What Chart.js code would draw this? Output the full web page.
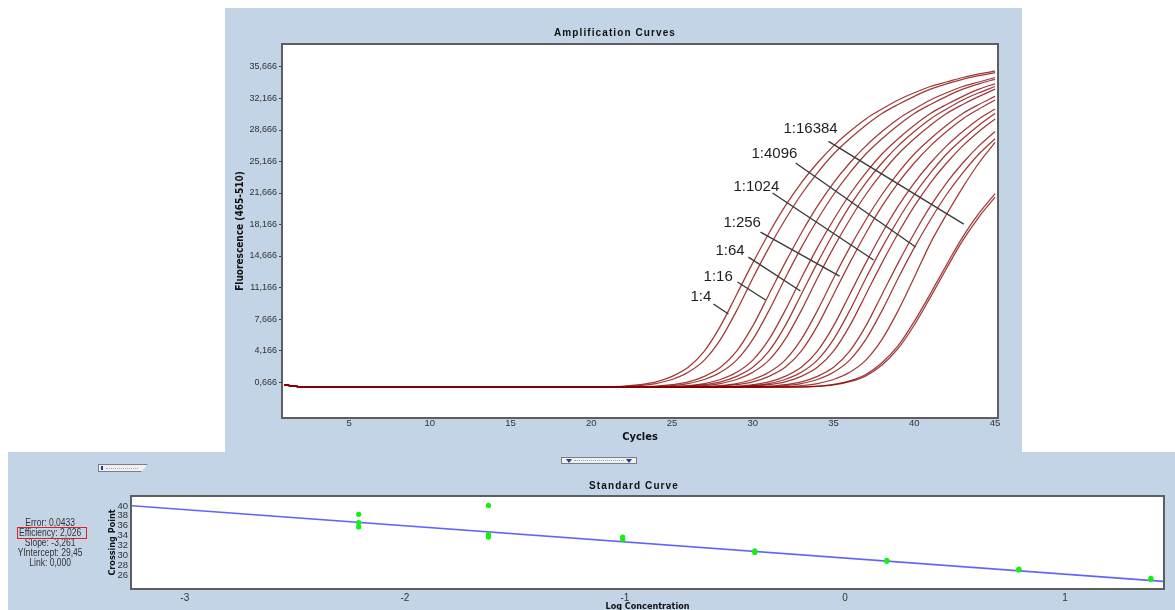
<!DOCTYPE html>
<html>
<head>
<meta charset="utf-8">
<title>Amplification Curves</title>
<script src="https://cdn.jsdelivr.net/npm/chart.js@4.4.1/dist/chart.umd.min.js"></script>
<style>
  html, body { margin: 0; padding: 0; background: #fff; }
  body { width: 1175px; height: 610px; position: relative; overflow: hidden;
         font-family: 'Liberation Sans', Arial, sans-serif; }
  .panel { position: absolute; background: #c3d4e6; }
  #topPanel { left: 225px; top: 8px; width: 797px; height: 444px; }
  #bottomPanel { left: 8px; top: 452px; width: 1167px; height: 158px; }
  canvas { position: absolute; left: 0; top: 0; }
  .title { position: absolute; font: bold 10px 'Liberation Sans', Arial, sans-serif;
           letter-spacing: 1.1px; color: #111; white-space: nowrap; transform: translateX(-50%); }
  #stats { position: absolute; left: 0; top: 518px; width: 100px; text-align: center;
           font: 10px 'Liberation Sans', Arial, sans-serif; line-height: 10px; color: #333;
           transform: scaleX(0.85); transform-origin: 51px 0; }
  #effBox { position: absolute; left: 17px; top: 527px; width: 68px; height: 10px; border: 1px solid #e02020; }
  .slider { position: absolute; background: #eef0f5; border: 1px solid #7d7d7d; box-sizing: border-box; }
  #leftSlider { left: 98px; top: 464px; width: 50px; height: 8px;
                clip-path: polygon(0 0, 100% 0, 86% 100%, 0 100%); }
  #leftSlider .knob { position: absolute; left: 2px; top: 1px; width: 2px; height: 4px; background: #2233aa; }
  #leftSlider .dots { position: absolute; left: 7px; right: 9px; top: 3px; border-top: 1px dotted #9aa; }
  #midSlider { left: 561px; top: 457px; width: 76px; height: 7px; }
  #midSlider .tri { position: absolute; top: 1px; width: 0; height: 0;
                    border-left: 3px solid transparent; border-right: 3px solid transparent; border-top: 4px solid #2a3a9a; }
  #midSlider .dots { position: absolute; left: 12px; right: 12px; top: 2px; border-top: 1px dotted #9aa; }
</style>
</head>
<body>
<div class="panel" id="topPanel"><canvas id="ampChart" width="797" height="444"></canvas></div>
<div class="panel" id="bottomPanel"><canvas id="stdChart" width="1167" height="158"></canvas></div>
<div class="title" style="left:615px; top:27px;">Amplification Curves</div>
<div class="title" style="left:634px; top:480px;">Standard Curve</div>
<div class="slider" id="leftSlider"><div class="knob"></div><div class="dots"></div></div>
<div class="slider" id="midSlider"><div class="tri" style="left:4px"></div><div class="dots"></div><div class="tri" style="right:4px"></div></div>
<div id="stats">Error: 0,0433<br>Efficiency: 2,026<br>Slope: -3,261<br>YIntercept: 29,45<br>Link: 0,000</div>
<div id="effBox"></div>
<script>
// ---- amplification curves: fluorescence per cycle ----
const CYCLES = [1,2,3,4,5,6,7,8,9,10,11,12,13,14,15,16,17,18,19,20,21,22,23,24,25,26,27,28,29,30,31,32,33,34,35,36,37,38,39,40,41,42,43,44,45];

// 1:4
const A1 = [0.35,0.15,0.12,0.12,0.12,0.12,0.12,0.12,0.12,0.12,0.12,0.12,0.12,0.12,0.12,0.12,0.12,0.12,0.12,0.12,0.14,0.2,0.37,0.68,1.3,2.3,4.1,6.9,10.4,13.9,17.2,20.2,22.8,25.0,26.9,28.5,29.9,31.0,32.0,32.8,33.5,34.0,34.5,34.9,35.2];
const A2 = [0.35,0.15,0.13,0.13,0.13,0.13,0.13,0.13,0.13,0.13,0.13,0.13,0.13,0.13,0.13,0.13,0.13,0.13,0.13,0.13,0.13,0.16,0.27,0.5,0.95,1.75,3.1,5.4,8.6,12.2,15.6,18.7,21.5,23.9,26.0,27.7,29.2,30.5,31.5,32.4,33.2,33.8,34.3,34.7,35.05];
// 1:16
const B1 = [0.35,0.15,0.11,0.11,0.11,0.11,0.11,0.11,0.11,0.11,0.11,0.11,0.11,0.11,0.11,0.11,0.11,0.11,0.11,0.11,0.11,0.11,0.14,0.2,0.37,0.68,1.3,2.3,4.1,6.9,10.4,13.9,17.2,20.2,22.8,25.0,26.9,28.5,29.9,31.0,32.0,32.8,33.5,34.0,34.5];
const B2 = [0.35,0.15,0.14,0.14,0.14,0.14,0.14,0.14,0.14,0.14,0.14,0.14,0.14,0.14,0.14,0.14,0.14,0.14,0.14,0.14,0.14,0.14,0.14,0.16,0.27,0.5,0.95,1.75,3.1,5.4,8.6,12.2,15.6,18.7,21.5,23.9,26.0,27.7,29.2,30.5,31.5,32.4,33.2,33.8,34.3];
// 1:64
const C1 = [0.35,0.15,0.12,0.12,0.12,0.12,0.12,0.12,0.12,0.12,0.12,0.12,0.12,0.12,0.12,0.12,0.12,0.12,0.12,0.12,0.12,0.12,0.12,0.13,0.16,0.27,0.5,0.95,1.75,3.1,5.4,8.6,12.2,15.6,18.7,21.5,23.9,26.0,27.7,29.2,30.5,31.5,32.4,33.2,33.8];
const C2 = [0.35,0.15,0.1,0.1,0.1,0.1,0.1,0.1,0.1,0.1,0.1,0.1,0.1,0.1,0.1,0.1,0.1,0.1,0.1,0.1,0.1,0.1,0.1,0.1,0.14,0.2,0.37,0.68,1.3,2.3,4.1,6.9,10.4,13.9,17.2,20.2,22.8,25.0,26.9,28.5,29.9,31.0,32.0,32.8,33.5];
const C3 = [0.35,0.15,0.13,0.13,0.13,0.13,0.13,0.13,0.13,0.13,0.13,0.13,0.13,0.13,0.13,0.13,0.13,0.13,0.13,0.13,0.13,0.13,0.13,0.13,0.13,0.16,0.27,0.5,0.95,1.75,3.1,5.4,8.6,12.2,15.6,18.7,21.5,23.9,26.0,27.7,29.2,30.5,31.5,32.4,33.2];
// 1:256
const D1 = [0.35,0.15,0.12,0.12,0.12,0.12,0.12,0.12,0.12,0.12,0.12,0.12,0.12,0.12,0.12,0.12,0.12,0.12,0.12,0.12,0.12,0.12,0.12,0.12,0.12,0.12,0.16,0.27,0.5,0.95,1.75,3.1,5.4,8.6,12.2,15.6,18.7,21.5,23.9,26.0,27.7,29.2,30.5,31.5,32.4];
const D2 = [0.35,0.15,0.14,0.14,0.14,0.14,0.14,0.14,0.14,0.14,0.14,0.14,0.14,0.14,0.14,0.14,0.14,0.14,0.14,0.14,0.14,0.14,0.14,0.14,0.14,0.14,0.14,0.2,0.37,0.68,1.3,2.3,4.1,6.9,10.4,13.9,17.2,20.2,22.8,25.0,26.9,28.5,29.9,31.0,32.0];
// 1:1024
const E1 = [0.35,0.15,0.11,0.11,0.11,0.11,0.11,0.11,0.11,0.11,0.11,0.11,0.11,0.11,0.11,0.11,0.11,0.11,0.11,0.11,0.11,0.11,0.11,0.11,0.11,0.11,0.11,0.11,0.2,0.37,0.68,1.3,2.3,4.1,6.9,10.4,13.9,17.2,20.2,22.8,25.0,26.9,28.5,29.9,31.0];
const E2 = [0.35,0.15,0.12,0.12,0.12,0.12,0.12,0.12,0.12,0.12,0.12,0.12,0.12,0.12,0.12,0.12,0.12,0.12,0.12,0.12,0.12,0.12,0.12,0.12,0.12,0.12,0.12,0.12,0.12,0.27,0.5,0.95,1.75,3.1,5.4,8.6,12.2,15.6,18.7,21.5,23.9,26.0,27.7,29.2,30.5];
const E3 = [0.35,0.15,0.13,0.13,0.13,0.13,0.13,0.13,0.13,0.13,0.13,0.13,0.13,0.13,0.13,0.13,0.13,0.13,0.13,0.13,0.13,0.13,0.13,0.13,0.13,0.13,0.13,0.13,0.13,0.2,0.37,0.68,1.3,2.3,4.1,6.9,10.4,13.9,17.2,20.2,22.8,25.0,26.9,28.5,29.9];
// 1:4096
const F1 = [0.35,0.15,0.1,0.1,0.1,0.1,0.1,0.1,0.1,0.1,0.1,0.1,0.1,0.1,0.1,0.1,0.1,0.1,0.1,0.1,0.1,0.1,0.1,0.1,0.1,0.1,0.1,0.1,0.1,0.1,0.2,0.37,0.68,1.3,2.3,4.1,6.9,10.4,13.9,17.2,20.2,22.8,25.0,26.9,28.5];
const F2 = [0.35,0.15,0.12,0.12,0.12,0.12,0.12,0.12,0.12,0.12,0.12,0.12,0.12,0.12,0.12,0.12,0.12,0.12,0.12,0.12,0.12,0.12,0.12,0.12,0.12,0.12,0.12,0.12,0.12,0.12,0.12,0.27,0.5,0.95,1.75,3.1,5.4,8.6,12.2,15.6,18.7,21.5,23.9,26.0,27.7];
const F3 = [0.35,0.15,0.14,0.14,0.14,0.14,0.14,0.14,0.14,0.14,0.14,0.14,0.14,0.14,0.14,0.14,0.14,0.14,0.14,0.14,0.14,0.14,0.14,0.14,0.14,0.14,0.14,0.14,0.14,0.14,0.14,0.14,0.27,0.5,0.95,1.75,3.1,5.4,8.6,12.3,16.1,19.3,22.3,25.0,27.3];
// 1:16384
const G1 = [0.35,0.15,0.12,0.12,0.12,0.12,0.12,0.12,0.12,0.12,0.12,0.12,0.12,0.12,0.12,0.12,0.12,0.12,0.12,0.12,0.12,0.12,0.12,0.12,0.12,0.12,0.12,0.12,0.12,0.12,0.12,0.12,0.12,0.2,0.4,0.8,1.5,2.8,4.7,7.4,10.5,13.7,16.8,19.4,21.6];
const G2 = [0.35,0.15,0.11,0.11,0.11,0.11,0.11,0.11,0.11,0.11,0.11,0.11,0.11,0.11,0.11,0.11,0.11,0.11,0.11,0.11,0.11,0.11,0.11,0.11,0.11,0.11,0.11,0.11,0.11,0.11,0.11,0.11,0.11,0.18,0.35,0.7,1.35,2.55,4.4,7.0,10.1,13.3,16.4,19.0,21.2];

const CURVES = [A1, A2, B1, B2, C1, C2, C3, D1, D2, E1, E2, E3, F1, F2, F3, G1, G2];

const X_TICKS = [5, 10, 15, 20, 25, 30, 35, 40, 45];
const Y_TICKS = [0.666, 4.166, 7.666, 11.166, 14.666, 18.166, 21.666, 25.166, 28.666, 32.166, 35.666];
const Y_TICK_LABELS = ['0,666', '4,166', '7,666', '11,166', '14,666', '18,166', '21,666', '25,166', '28,666', '32,166', '35,666'];

// dilution labels with leader lines, in cycle / fluorescence units
const DILUTIONS = ['1:4', '1:16', '1:64', '1:256', '1:1024', '1:4096', '1:16384'];
const LABEL_CYCLE = [26.14, 26.95, 27.69, 28.18, 28.8, 29.92, 31.9];
const LABEL_VALUE = [10.11, 12.33, 15.22, 18.33, 22.33, 26.0, 28.8];
const LEADER_FROM_CYCLE = [27.56, 29.05, 29.73, 30.48, 31.22, 32.65, 34.69];
const LEADER_FROM_VALUE = [9.33, 11.78, 14.55, 17.33, 21.67, 25.0, 27.4];
const LEADER_TO_CYCLE = [28.49, 30.79, 32.95, 35.37, 37.48, 40.08, 43.06];
const LEADER_TO_VALUE = [8.22, 9.78, 10.78, 12.44, 14.22, 15.67, 18.2];

// ---- standard curve ----
const STD_LOG_CONC = [-2.21, -2.21, -2.21, -1.62, -1.62, -1.62, -1.01, -1.01, -0.41, -0.41, 0.19, 0.19, 0.79, 0.79, 1.39, 1.39];
const STD_CP = [38.3, 36.6, 35.75, 40.1, 34.2, 33.7, 33.7, 33.2, 30.9, 30.6, 29.0, 28.8, 27.2, 27.05, 25.35, 25.1];
const FIT_LOG_CONC = [-3.24, 1.445];
const FIT_CP = [40.02, 24.74];
const STD_X_TICKS = [-3, -2, -1, 0, 1];
const STD_Y_TICKS = [26, 28, 30, 32, 34, 36, 38, 40];

const SANS = "'Liberation Sans', Arial, sans-serif";
const NARROW = "'Liberation Sans Narrow', 'Arial Narrow', 'DejaVu Sans Condensed', 'Liberation Sans', sans-serif";

const plotFrame = {
  id: 'plotFrame',
  beforeDraw(chart) {
    const a = chart.chartArea, ctx = chart.ctx;
    ctx.save();
    ctx.fillStyle = '#fff';
    ctx.fillRect(a.left, a.top, a.right - a.left, a.bottom - a.top);
    ctx.restore();
  },
  afterDraw(chart) {
    const a = chart.chartArea, ctx = chart.ctx;
    ctx.save();
    ctx.strokeStyle = '#5e5e5e';
    ctx.lineWidth = 2;
    ctx.strokeRect(a.left - 1, a.top - 1, a.right - a.left + 2, a.bottom - a.top + 2);
    ctx.restore();
  }
};

const dilutionLabels = {
  id: 'dilutionLabels',
  afterDatasetsDraw(chart) {
    const ctx = chart.ctx, x = chart.scales.x, y = chart.scales.y;
    ctx.save();
    ctx.strokeStyle = '#3a3a3a';
    ctx.lineWidth = 1.4;
    ctx.fillStyle = '#1e1e1e';
    ctx.font = '15px ' + SANS;
    ctx.textBaseline = 'middle';
    ctx.textAlign = 'left';
    DILUTIONS.forEach((t, i) => {
      ctx.beginPath();
      ctx.moveTo(x.getPixelForValue(LEADER_FROM_CYCLE[i]), y.getPixelForValue(LEADER_FROM_VALUE[i]));
      ctx.lineTo(x.getPixelForValue(LEADER_TO_CYCLE[i]), y.getPixelForValue(LEADER_TO_VALUE[i]));
      ctx.stroke();
      ctx.fillText(t, x.getPixelForValue(LABEL_CYCLE[i]), y.getPixelForValue(LABEL_VALUE[i]));
    });
    ctx.restore();
  }
};

new Chart(document.getElementById('ampChart'), {
  type: 'line',
  data: {
    datasets: CURVES.map(curve => ({
      data: curve.map((v, i) => ({x: CYCLES[i], y: v})),
      borderColor: 'rgba(135, 0, 0, 0.78)',
      borderWidth: 1.25,
      pointRadius: 0,
      fill: false,
      cubicInterpolationMode: 'monotone'
    }))
  },
  options: {
    responsive: false,
    animation: false,
    devicePixelRatio: 1,
    layout: {padding: {left: 0, right: 25, top: 37, bottom: 0}},
    plugins: {legend: {display: false}, tooltip: {enabled: false}},
    scales: {
      x: {
        type: 'linear', min: 0.91, max: 45.12,
        afterBuildTicks: s => { s.ticks = X_TICKS.map(v => ({value: v})); },
        afterFit: s => { s.height = 35; },
        grid: {display: false, drawTicks: false},
        border: {display: false},
        ticks: {padding: 1, maxRotation: 0, autoSkip: false, color: '#333', font: {family: SANS, size: 9.5}},
        title: {display: true, text: 'Cycles', color: '#111', font: {family: NARROW, size: 11, weight: 'bold'}, padding: {top: 0, bottom: 8}}
      },
      y: {
        type: 'linear', min: -3.22, max: 38.11,
        afterBuildTicks: s => { s.ticks = Y_TICKS.map(v => ({value: v})); },
        afterFit: s => { s.width = 58; },
        grid: {drawOnChartArea: false, tickLength: 4, color: '#444'},
        border: {display: false},
        ticks: {padding: 2, autoSkip: false, color: '#333', font: {family: SANS, size: 9},
                callback: (v, i) => Y_TICK_LABELS[i]},
        title: {display: true, text: 'Fluorescence (465-510)', color: '#111', font: {family: NARROW, size: 10, weight: 'bold'}, padding: {top: 9, bottom: 0}}
      }
    }
  },
  plugins: [plotFrame, dilutionLabels]
});

new Chart(document.getElementById('stdChart'), {
  type: 'scatter',
  data: {
    datasets: [
      {
        data: STD_LOG_CONC.map((v, i) => ({x: v, y: STD_CP[i]})),
        backgroundColor: '#12f012',
        borderWidth: 0,
        pointRadius: 2.6
      },
      {
        data: FIT_LOG_CONC.map((v, i) => ({x: v, y: FIT_CP[i]})),
        showLine: true,
        borderColor: 'rgba(70, 70, 255, 0.85)',
        borderWidth: 1.6,
        pointRadius: 0
      }
    ]
  },
  options: {
    responsive: false,
    animation: false,
    devicePixelRatio: 1,
    layout: {padding: {left: 0, right: 12, top: 45, bottom: 0}},
    plugins: {legend: {display: false}, tooltip: {enabled: false}},
    scales: {
      x: {
        type: 'linear', min: -3.24, max: 1.445,
        afterBuildTicks: s => { s.ticks = STD_X_TICKS.map(v => ({value: v})); },
        afterFit: s => { s.height = 22; },
        grid: {display: false, drawTicks: false},
        border: {display: false},
        ticks: {padding: 4, maxRotation: 0, autoSkip: false, color: '#333', font: {family: SANS, size: 10}},
        title: {display: true, text: 'Log Concentration', color: '#111', font: {family: NARROW, size: 9, weight: 'bold'}, padding: {top: 0, bottom: -2}}
      },
      y: {
        type: 'linear', min: 23.4, max: 41.8,
        afterBuildTicks: s => { s.ticks = STD_Y_TICKS.map(v => ({value: v})); },
        afterFit: s => { s.width = 124; },
        grid: {display: false, drawTicks: false},
        border: {display: false},
        ticks: {padding: 4, autoSkip: false, color: '#333', font: {family: SANS, size: 9.5}},
        title: {display: true, text: 'Crossing Point', color: '#111', font: {family: NARROW, size: 9, weight: 'bold'}, padding: {top: 99, bottom: 0}}
      }
    }
  },
  plugins: [plotFrame]
});
</script>
</body>
</html>
